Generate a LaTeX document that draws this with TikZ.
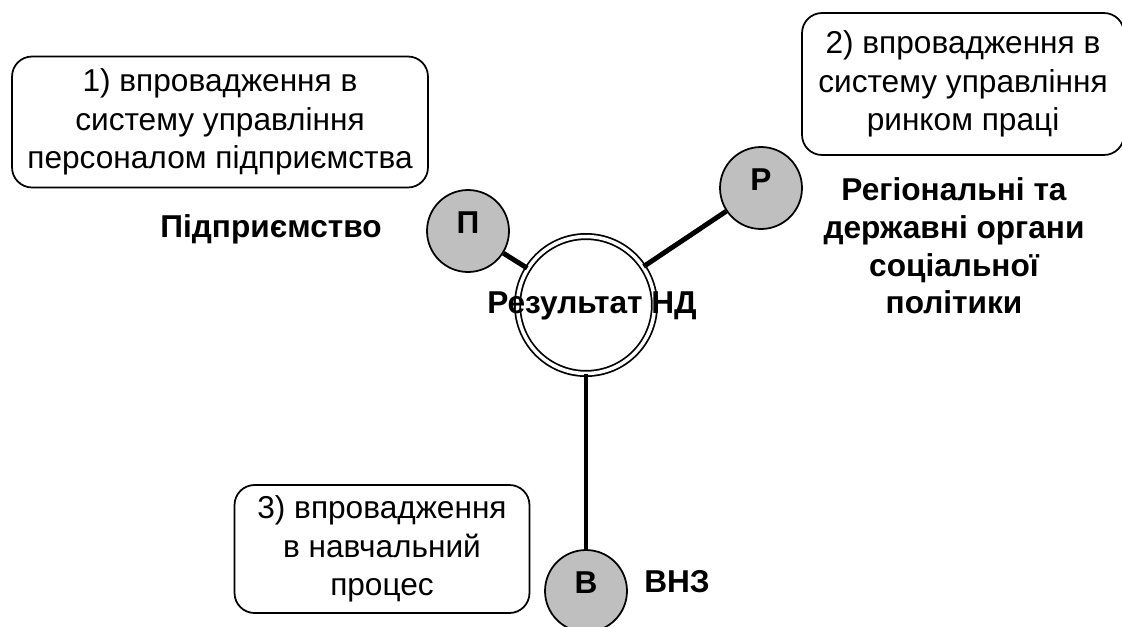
\documentclass[tikz,border=0pt]{standalone}
\usepackage{fontspec}
\setmainfont{Liberation Sans}
\usepackage{tikz}
\usetikzlibrary{ positioning, % For easy node-relative placements
               }
\tikzstyle{link} = [line width=2.8pt]
\tikzstyle{actor} = [circle, draw=black, fill=black!25, line width=1pt, minimum size=1.64cm, inner sep=0pt, text height=0.5cm, text depth=0.4cm, font=\fontsize{18}{22}\selectfont\bfseries]
\tikzstyle{result} = [circle, draw=black, double, double distance=0.07cm, line width=1pt, minimum size=2.74cm, inner sep=0pt]
\tikzstyle{note} = [rectangle, rounded corners=0.4cm, draw=black, line width=1pt, align=center, font=\fontsize{18}{22}\selectfont]
\tikzstyle{caption} = [align=center, font=\fontsize{18}{21.5}\selectfont\bfseries]

\begin{document}
\begin{tikzpicture}[x=0.02cm, y=-0.02cm]
  \useasboundingbox (0,0) rectangle (1122,626);
  \node (nd) [result] at (586, 305) {};
  \node (p) [actor] at (468, 231) {П};
  \node (r) [actor] at (761, 188) {Р};
  \node (v) [actor] at (586, 591) {В};
  \draw [link] (p) -- (nd);
  \draw [link] (r) -- (nd);
  \draw [link] (nd) -- (v);
  \node (ndl) [caption] at (592, 306) {Результат НД};

  \node (pl) [caption] at (271, 229) {Підприємство};
  \node (rl) [caption] at (954, 246) {Регіональні та\\ державні органи\\ соціальної\\ політики};
  \node (vl) [caption] at (677, 582) {ВНЗ};

  \node (n1) [note, minimum width=8.32cm, minimum height=2.62cm] at (220, 122) {1) впровадження в\\ систему управління\\ персоналом підприємства};
  \node (n2) [note, minimum width=6.44cm, minimum height=2.84cm] at (963, 84) {2) впровадження в\\ систему управління\\ ринком праці};
  \node (n3) [note, minimum width=5.9cm, minimum height=2.56cm] at (382, 549) {3) впровадження\\ в навчальний\\ процес};
\end{tikzpicture}
\end{document}
